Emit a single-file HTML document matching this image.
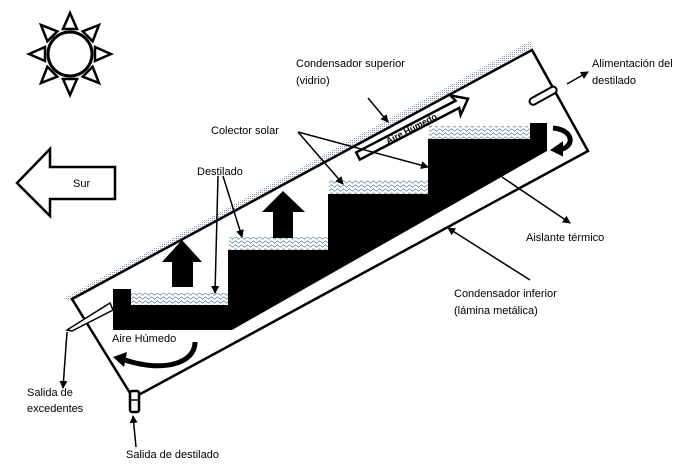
<!DOCTYPE html>
<html><head><meta charset="utf-8"><style>
html,body{margin:0;padding:0;background:#fff;}
svg{display:block;font-family:"Liberation Sans",sans-serif;}
text{font-size:11px;fill:#000;}
</style></head><body>
<svg width="690" height="467" viewBox="0 0 690 467" xmlns="http://www.w3.org/2000/svg">
<defs>
<pattern id="dots" width="2" height="2" patternUnits="userSpaceOnUse">
<rect width="2" height="2" fill="#fff"/><rect width="1" height="1" fill="#7f97a8"/></pattern>
<pattern id="wave" width="6" height="4" patternUnits="userSpaceOnUse">
<rect width="6" height="4" fill="#fff"/><path d="M0 2 L1.5 0.8 L3 2 L4.5 3.2 L6 2" stroke="#6a8aa0" stroke-width="0.8" fill="none"/></pattern>
<marker id="ah" markerWidth="8" markerHeight="8" refX="7" refY="4" orient="auto" markerUnits="userSpaceOnUse"><path d="M0 0 L8 4 L0 8 Z" fill="#000"/></marker>
</defs>

<!-- sun -->
<g stroke="#000" stroke-width="3" fill="none">
<circle cx="70" cy="54" r="22"/>
<g id="tri"><path d="M70 13 L63 29 L77 29 Z" stroke-width="2.5"/></g>
<use href="#tri" transform="rotate(45 70 54)"/>
<use href="#tri" transform="rotate(90 70 54)"/>
<use href="#tri" transform="rotate(135 70 54)"/>
<use href="#tri" transform="rotate(180 70 54)"/>
<use href="#tri" transform="rotate(225 70 54)"/>
<use href="#tri" transform="rotate(270 70 54)"/>
<use href="#tri" transform="rotate(315 70 54)"/>
</g>

<!-- Sur arrow -->
<path d="M17 183 L50 149 L50 167 L115 167 L115 199 L50 199 L50 216 Z" fill="#fff" stroke="#000" stroke-width="2.5"/>
<text x="73" y="187">Sur</text>

<!-- glass hatch -->
<path d="M64 298 L530 41 L533 47 L70 302 Z" fill="url(#dots)"/>
<!-- box -->
<path d="M72 299 L532 50 L588 151 L133 398 Z" fill="none" stroke="#000" stroke-width="2.5"/>

<!-- water -->
<rect x="131" y="293" width="98" height="12" fill="url(#wave)"/>
<rect x="229" y="237" width="100" height="13" fill="url(#wave)"/>
<rect x="329" y="180" width="100" height="14" fill="url(#wave)"/>
<rect x="429" y="126" width="101" height="13" fill="url(#wave)"/>
<!-- stairs -->
<path d="M113 289 L131 289 L131 305 L228 305 L228 250 L328 250 L328 194 L428 194 L428 139 L530 139 L530 123 L547 123 L547 151 L232 330 L113 330 Z" fill="#000"/>

<!-- up arrows -->
<path d="M182 240 L202 262 L193 262 L193 287 L172 287 L172 262 L162 262 Z" fill="#000"/>
<path d="M283 191 L305 212 L293 212 L293 238 L273 238 L273 212 L262 212 Z" fill="#000"/>

<!-- aire humedo tube -->
<g transform="translate(358 156) rotate(-27.5)">
<path d="M0 -4 L112 -4 L110 -11 L124 0 L110 11 L112 4 L0 4 Z" fill="#fff" stroke="#000" stroke-width="2.5"/>
<text x="32" y="3.5" style="font-size:9px;font-weight:bold" fill="#000">Aire Húmedo</text>
</g>

<!-- top right pipe -->
<g transform="translate(530 103) rotate(-29)"><rect x="0" y="-3.5" width="30" height="7" rx="3.5" fill="#fff" stroke="#000" stroke-width="2"/></g>
<line x1="567" y1="84" x2="588" y2="72" stroke="#000" stroke-width="1.5" marker-end="url(#ah)"/>
<text x="592" y="67">Alimentación del</text>
<text x="592" y="84">destilado</text>

<!-- curved arrow right -->
<path d="M553 128 C575 130 575 148 558 150" fill="none" stroke="#000" stroke-width="5"/>
<path d="M552 150 L562 143 L562 155 Z" fill="#000" stroke="#000" stroke-width="2"/>

<!-- left pipe -->
<path d="M67 330 L110 303 L113 310 L72 331 Z" fill="#fff" stroke="#000" stroke-width="1.5"/>
<line x1="67" y1="332" x2="63" y2="388" stroke="#000" stroke-width="1.5" marker-end="url(#ah)"/>
<text x="27" y="396">Salida de</text>
<text x="27" y="412">excedentes</text>

<!-- bottom pipe -->
<rect x="130" y="391" width="9" height="21" rx="2" fill="#fff" stroke="#000" stroke-width="2.5"/>
<line x1="130" y1="400" x2="139" y2="400" stroke="#000" stroke-width="1.5"/>
<line x1="136" y1="447" x2="133" y2="416" stroke="#000" stroke-width="1.5" marker-end="url(#ah)"/>
<text x="126" y="458">Salida de destilado</text>

<!-- Aire humedo bottom -->
<text x="112" y="342">Aire Húmedo</text>
<path d="M195 342 C195 365 160 372 125 360" fill="none" stroke="#000" stroke-width="5"/>
<path d="M113 357 L127 352 L124 367 Z" fill="#000"/>

<!-- labels & pointers -->
<text x="296" y="67">Condensador  superior</text>
<text x="296" y="84">(vidrio)</text>
<line x1="368" y1="98" x2="388" y2="122" stroke="#000" stroke-width="1.5" marker-end="url(#ah)"/>

<text x="211" y="134">Colector  solar</text>
<line x1="298" y1="132" x2="343" y2="184" stroke="#000" stroke-width="1.5" marker-end="url(#ah)"/>
<line x1="298" y1="132" x2="428" y2="167" stroke="#000" stroke-width="1.5" marker-end="url(#ah)"/>

<text x="197" y="175">Destilado</text>
<line x1="223" y1="176" x2="242" y2="237" stroke="#000" stroke-width="1.5" marker-end="url(#ah)"/>
<line x1="218" y1="176" x2="215" y2="293" stroke="#000" stroke-width="1.5" marker-end="url(#ah)"/>

<line x1="502" y1="177" x2="570" y2="223" stroke="#000" stroke-width="1.5" marker-end="url(#ah)"/>
<text x="526" y="241">Aislante térmico</text>

<line x1="530" y1="280" x2="448" y2="228" stroke="#000" stroke-width="1.5" marker-end="url(#ah)"/>
<text x="454" y="297">Condensador  inferior</text>
<text x="454" y="314">(lámina metálica)</text>
</svg>
</body></html>
